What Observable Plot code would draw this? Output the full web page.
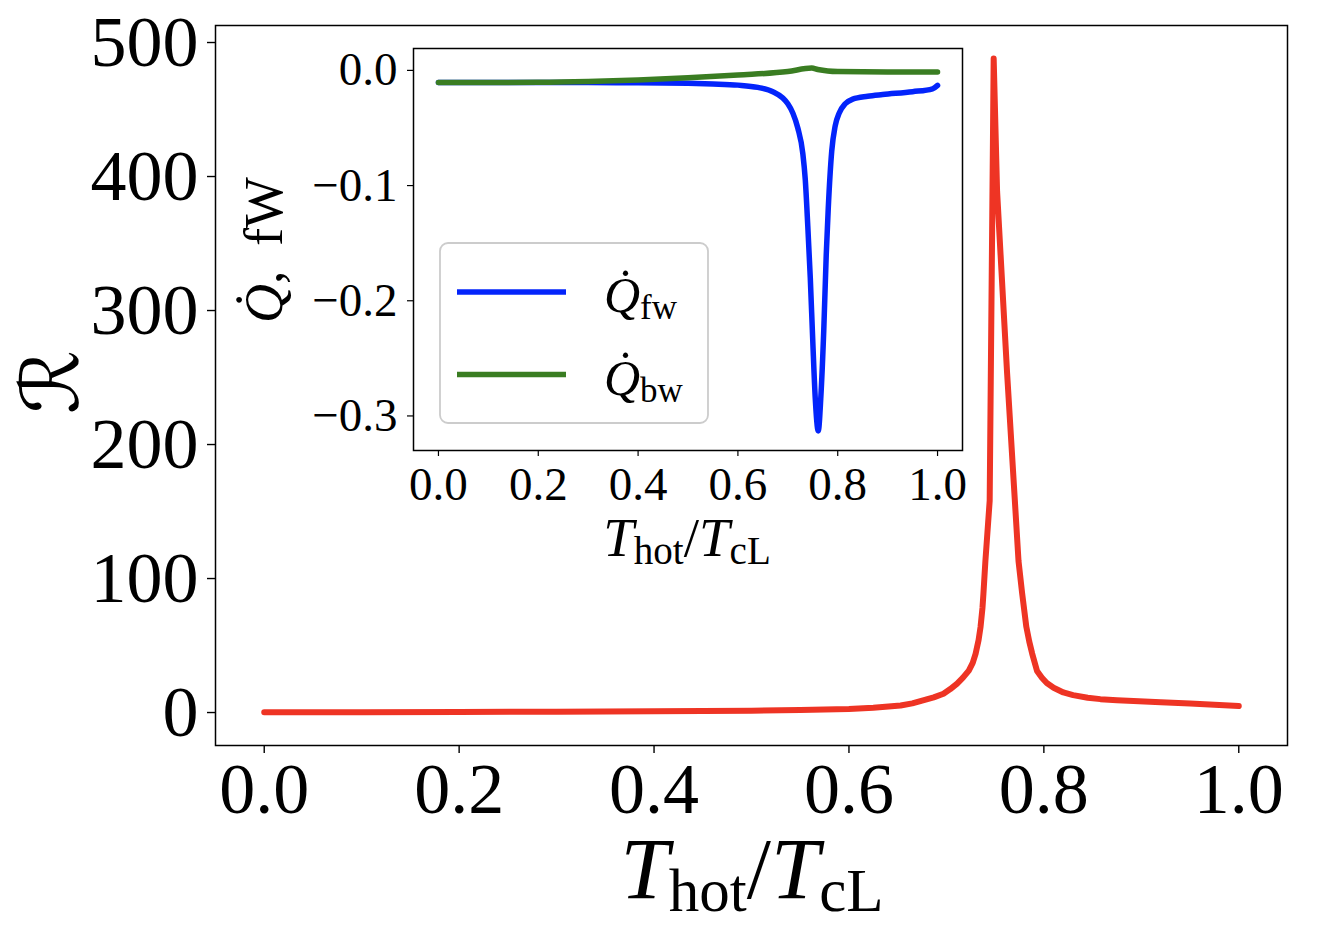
<!DOCTYPE html>
<html><head><meta charset="utf-8">
<script src="https://cdn.jsdelivr.net/npm/d3@7"></script>
<script src="https://cdn.jsdelivr.net/npm/@observablehq/plot@0.6"></script>
<style>
body{margin:0;background:#fff;}
#wrap{position:relative;width:1324px;height:930px;background:#fff;}
#wrap svg{position:absolute;left:0;top:0;overflow:visible;}
</style></head><body><div id="wrap"></div>
<script>
// ---- Main plot data: R vs T_hot/T_cL ----
const mainT = [0, 0.1, 0.2, 0.3, 0.4, 0.5, 0.55, 0.6, 0.625, 0.653, 0.665, 0.676, 0.687, 0.697, 0.704, 0.711, 0.717, 0.723, 0.727, 0.730, 0.733, 0.735, 0.737, 0.738, 0.740, 0.7444, 0.7485, 0.752, 0.7623, 0.774, 0.7777, 0.782, 0.785, 0.788, 0.793, 0.798, 0.803, 0.810, 0.820, 0.830, 0.845, 0.858, 0.875, 0.892, 0.92, 0.95, 0.975, 1.0];
const mainR = [0.2, 0.3, 0.4, 0.6, 0.9, 1.4, 1.9, 2.6, 3.6, 5.2, 6.8, 9, 11.3, 14, 17.5, 21.6, 26, 31.3, 37, 44, 54, 63.7, 78, 88.8, 113, 158, 488, 389, 253, 113, 89, 64, 53, 44, 31, 26, 22, 18.5, 15, 13, 11, 10, 9.2, 8.6, 7.6, 6.8, 5.9, 4.8];
const mainXTicks = [0, 0.2, 0.4, 0.6, 0.8, 1.0];
const mainYTicks = [0, 100, 200, 300, 400, 500];

// ---- Inset data: heat currents (fW) ----
const fwT = [0, 0.2, 0.3, 0.4, 0.5, 0.55, 0.6, 0.64, 0.67, 0.69, 0.70, 0.71, 0.72, 0.73, 0.735, 0.74, 0.745, 0.75, 0.755, 0.761, 0.766, 0.772, 0.777, 0.781, 0.788, 0.795, 0.803, 0.815, 0.83, 0.86, 0.89, 0.95, 0.99, 1.0];
const fwQ = [-0.0105, -0.0105, -0.0106, -0.0108, -0.0112, -0.0118, -0.0128, -0.0148, -0.0185, -0.024, -0.029, -0.037, -0.050, -0.072, -0.095, -0.135, -0.18, -0.235, -0.285, -0.313, -0.285, -0.226, -0.16, -0.12, -0.07, -0.048, -0.037, -0.029, -0.025, -0.0225, -0.021, -0.0185, -0.016, -0.013];
const bwT = [0, 0.1, 0.2, 0.3, 0.4, 0.5, 0.6, 0.7, 0.748, 0.76, 0.78, 0.8, 0.9, 1.0];
const bwQ = [-0.0105, -0.0105, -0.0104, -0.0097, -0.0083, -0.0064, -0.0040, -0.0010, 0.0020, 0.0008, -0.0005, -0.0010, -0.0014, -0.0015];
const insetXTicks = [0, 0.2, 0.4, 0.6, 0.8, 1.0];
const insetYTicks = [0, -0.1, -0.2, -0.3];
const seriesNames = ["fw", "bw"];
const colors = {red: "#ee3424", blue: "#0324fb", green: "#3a7d22"};

const W = 1324, H = 930;
const serif = "'Liberation Serif', 'DejaVu Serif', serif";
const wrap = document.getElementById("wrap");

const mainData = mainT.map((t, i) => ({t, r: mainR[i]}));
const fwData = fwT.map((t, i) => ({t, q: fwQ[i]}));
const bwData = bwT.map((t, i) => ({t, q: bwQ[i]}));
const fmt1 = d => d === 0 ? "0.0" : (d < 0 ? "\u2212" : "") + Math.abs(d).toFixed(1);

const main = Plot.plot({
  width: W, height: H,
  marginLeft: 215, marginRight: 37, marginTop: 25, marginBottom: 185,
  style: {fontFamily: serif, fontSize: "72px", color: "black", background: "transparent", overflow: "visible"},
  x: {domain: [-0.05, 1.05], label: null},
  y: {domain: [-24.6, 512.7], label: null},
  marks: [
    Plot.line(mainData, {x: "t", y: "r", stroke: colors.red, strokeWidth: 6}),
    Plot.frame({stroke: "black", strokeWidth: 1.5}),
    Plot.axisX({ticks: mainXTicks, tickSize: 8, tickPadding: 8, tickFormat: fmt1, label: null, strokeWidth: 1.4}),
    Plot.axisY({ticks: mainYTicks, tickSize: 8, tickPadding: 9, tickFormat: d => String(d), label: null, strokeWidth: 1.4})
  ]
});
wrap.appendChild(main);

const inset = Plot.plot({
  width: W, height: H,
  marginLeft: 413, marginRight: 362, marginTop: 48, marginBottom: 480,
  style: {fontFamily: serif, fontSize: "47px", color: "black", background: "transparent", overflow: "visible"},
  x: {domain: [-0.05, 1.05], label: null},
  y: {domain: [-0.33, 0.019], label: null},
  marks: [
    Plot.frame({fill: "white"}),
    Plot.line(fwData, {x: "t", y: "q", stroke: colors.blue, strokeWidth: 5.5, curve: "monotone-x"}),
    Plot.line(bwData, {x: "t", y: "q", stroke: colors.green, strokeWidth: 5.5, curve: "monotone-x"}),
    Plot.frame({stroke: "black", strokeWidth: 1.5}),
    Plot.axisX({ticks: insetXTicks, tickSize: 6, tickPadding: 10, tickFormat: fmt1, label: null, strokeWidth: 1.2}),
    Plot.axisY({ticks: insetYTicks, tickSize: 6, tickPadding: 10, tickFormat: fmt1, label: null, strokeWidth: 1.2})
  ]
});
wrap.appendChild(inset);

// ---- Axis labels ----
function thotLabel(svg, x, y, size, subSize, dy) {
  const t = d3.select(svg).append("text")
    .attr("x", x).attr("y", y).attr("text-anchor", "middle")
    .style("font-family", serif).style("font-size", size + "px").attr("fill", "black");
  t.append("tspan").style("font-style", "italic").text("T");
  t.append("tspan").style("font-size", subSize + "px").attr("dy", dy).text("hot");
  t.append("tspan").attr("dy", -dy).text("/");
  t.append("tspan").style("font-style", "italic").text("T");
  t.append("tspan").style("font-size", subSize + "px").attr("dy", dy).text("cL");
}
thotLabel(main, 752, 898, 87, 61, 13);
thotLabel(inset, 687, 556, 55, 39, 8);

d3.select(main).append("text")
  .attr("transform", "translate(78,382) rotate(-90)")
  .attr("text-anchor", "middle")
  .style("font-family", "'DejaVu Sans', serif").style("font-size", "80px")
  .attr("fill", "black").text("\u211B");

{
  const t = d3.select(inset).append("text")
    .attr("transform", "translate(282,250) rotate(-90)")
    .attr("text-anchor", "middle")
    .style("font-family", serif).style("font-size", "54px").attr("fill", "black");
  t.append("tspan").style("font-style", "italic").text("Q\u0307");
  t.append("tspan").text(", \u2009fW");
}

// ---- Legend ----
{
  const g = d3.select(inset).append("g");
  g.append("rect").attr("x", 440).attr("y", 243).attr("width", 268).attr("height", 180)
    .attr("rx", 8).attr("fill", "white").attr("fill-opacity", 0.8)
    .attr("stroke", "#cccccc").attr("stroke-width", 1.8);
  const rows = [{name: seriesNames[0], color: colors.blue, y: 292},
                {name: seriesNames[1], color: colors.green, y: 374.5}];
  rows.forEach(r => {
    g.append("line").attr("x1", 457).attr("x2", 566).attr("y1", r.y).attr("y2", r.y)
      .attr("stroke", r.color).attr("stroke-width", 5.5);
    const t = g.append("text").attr("x", 604).attr("y", r.y + 20).attr("text-anchor", "start")
      .style("font-family", serif).style("font-size", "50px").attr("fill", "black");
    t.append("tspan").style("font-style", "italic").text("Q\u0307");
    t.append("tspan").style("font-size", "35px").attr("dy", 7).text(r.name);
  });
}
</script></body></html>
